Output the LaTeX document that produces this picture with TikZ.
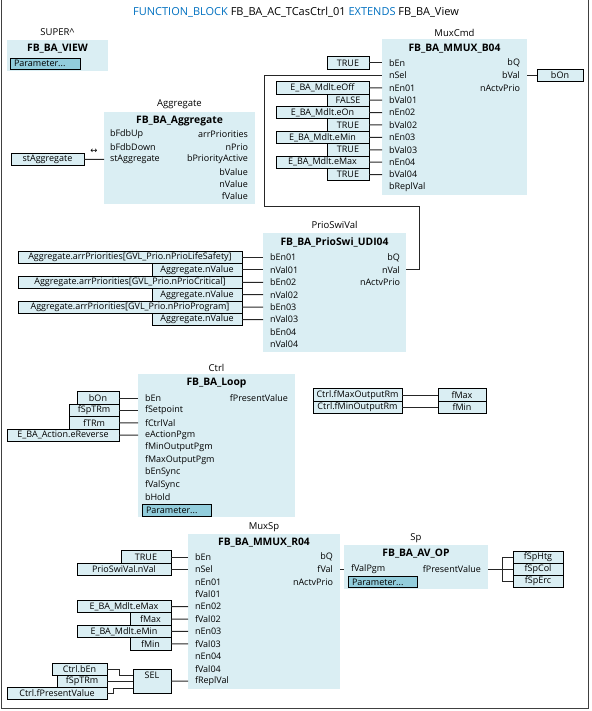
\documentclass[tikz,border=0pt]{standalone}
\usepackage{fontspec}
\setmainfont{Open Sans}
\newfontfamily\symf{DejaVu Sans}
\definecolor{blkfill}{HTML}{DAEEF3}
\definecolor{varfill}{HTML}{DAEEF3}
\definecolor{btnfill}{HTML}{92CDDC}
\definecolor{kwblue}{HTML}{0070C0}
\begin{document}
\begin{tikzpicture}[x=1pt,y=-1pt,
  every node/.style={inner sep=0pt, outer sep=0pt},
  blkbox/.style={fill=blkfill, draw=none, anchor=north west},
  instname/.style={font=\fontsize{9.5}{11}\selectfont},
  blktitle/.style={font=\fontsize{10.3}{12}\selectfont\bfseries},
  pinl/.style={anchor=west, font=\fontsize{9}{11}\selectfont},
  pinr/.style={anchor=east, font=\fontsize{9}{11}\selectfont},
  varbox/.style={draw=black, line width=0.8pt, fill=varfill, minimum height=12.4pt, font=\fontsize{9}{11}\selectfont, align=center},
  parambtn/.style={draw=black, line width=0.8pt, fill=btnfill, anchor=north west},
  wire/.style={draw=black!85, line width=1pt},
  frameline/.style={draw=black!75, line width=1pt}]
\useasboundingbox (0,0) rectangle (591,711);
\draw[frameline] (1,-2) -- (1,708) -- (588,708) -- (588,-2);

% title
\node[font=\fontsize{11}{13}\selectfont] (title) at (296,12) {\textcolor{kwblue}{FUNCTION\_BLOCK} FB\_BA\_AC\_TCasCtrl\_01 \textcolor{kwblue}{EXTENDS} FB\_BA\_View};

% ---------- SUPER^ ----------
\node[blkbox, minimum width=101, minimum height=31] (vw) at (7,40) {};
\node[instname] (vw-n) at (57.5,32) {SUPER\textasciicircum};
\node[blktitle] (vw-t) at (57.5,49) {FB\_BA\_VIEW};
\node[parambtn, minimum width=70, minimum height=11] (vw-p) at (10,58) {};
\node[pinl] (vw-pt) at (14,63.5) {Parameter...};

% ---------- MuxCmd ----------
\node[blkbox, minimum width=145, minimum height=156] (mc) at (382,39) {};
\node[instname] (mc-n) at (454.5,32.5) {MuxCmd};
\node[blktitle] (mc-t) at (454.5,48.5) {FB\_BA\_MMUX\_B04};
\foreach \t [count=\i from 0] in {bEn,nSel,nEn01,bVal01,nEn02,bVal02,nEn03,bVal03,nEn04,bVal04,bReplVal}{
  \node[pinl] (mc-l\i) at (389,{63+12.4*\i}) {\t};
  \coordinate (mc-i\i) at (382,{63+12.4*\i});
}
\foreach \t [count=\i from 0] in {bQ,bVal,nActvPrio}{
  \node[pinr] (mc-r\i) at (520,{63+12.4*\i}) {\t};
  \coordinate (mc-o\i) at (527,{63+12.4*\i});
}
\node[varbox, anchor=east, minimum width=42] (mcv0) at (369,63) {TRUE};
\node[varbox, anchor=east, minimum width=93] (mcv2) at (369,87.8) {E\_BA\_Mdlt.eOff};
\node[varbox, anchor=east, minimum width=42] (mcv3) at (369,100.2) {FALSE};
\node[varbox, anchor=east, minimum width=93] (mcv4) at (369,112.6) {E\_BA\_Mdlt.eOn};
\node[varbox, anchor=east, minimum width=42] (mcv5) at (369,125) {TRUE};
\node[varbox, anchor=east, minimum width=93] (mcv6) at (369,137.4) {E\_BA\_Mdlt.eMin};
\node[varbox, anchor=east, minimum width=42] (mcv7) at (369,149.8) {TRUE};
\node[varbox, anchor=east, minimum width=93] (mcv8) at (369,162.2) {E\_BA\_Mdlt.eMax};
\node[varbox, anchor=east, minimum width=42] (mcv9) at (369,174.6) {TRUE};
\foreach \i in {0,2,3,4,5,6,7,8,9}{\draw[wire] (mcv\i.east) -- (mc-i\i);}
\node[varbox, anchor=west, minimum width=46] (bon) at (537,75.4) {bOn};
\draw[wire] (mc-o1) -- (bon.west);

% ---------- Aggregate ----------
\node[blkbox, minimum width=151, minimum height=92] (ag) at (104,112) {};
\node[instname] (ag-n) at (179.5,104.5) {Aggregate};
\node[blktitle] (ag-t) at (179.5,121) {FB\_BA\_Aggregate};
\foreach \t [count=\i from 0] in {bFdbUp,bFdbDown,stAggregate}{
  \node[pinl] (ag-l\i) at (110,{134.5+12.4*\i}) {\t};
  \coordinate (ag-i\i) at (104,{134.5+12.4*\i});
}
\foreach \t [count=\i from 0] in {arrPriorities,nPrio,bPriorityActive,bValue,nValue,fValue}{
  \node[pinr] (ag-r\i) at (248,{134.5+12.4*\i}) {\t};
}
\node[varbox, anchor=east, minimum width=73] (stag) at (84,159.3) {stAggregate};
\draw[wire] (stag.east) -- (ag-i2);
\node[font=\symf\fontsize{8.5}{10}\selectfont] (inout) at (94,151.5) {↔};

% ---------- PrioSwiVal ----------
\node[blkbox, minimum width=143, minimum height=119] (ps) at (263,233) {};
\node[instname] (ps-n) at (334.5,225) {PrioSwiVal};
\node[blktitle] (ps-t) at (334.5,242) {FB\_BA\_PrioSwi\_UDI04};
\foreach \t [count=\i from 0] in {bEn01,nVal01,bEn02,nVal02,bEn03,nVal03,bEn04,nVal04}{
  \node[pinl] (ps-l\i) at (270,{257.5+12.4*\i}) {\t};
  \coordinate (ps-i\i) at (263,{257.5+12.4*\i});
}
\foreach \t [count=\i from 0] in {bQ,nVal,nActvPrio}{
  \node[pinr] (ps-r\i) at (400,{257.5+12.4*\i}) {\t};
  \coordinate (ps-o\i) at (406,{257.5+12.4*\i});
}
\node[varbox, anchor=east, minimum width=224] (psv0) at (242,257.5) {Aggregate.arrPriorities[GVL\_Prio.nPrioLifeSafety]};
\node[varbox, anchor=east, minimum width=90] (psv1) at (242,269.9) {Aggregate.nValue};
\node[varbox, anchor=east, minimum width=224] (psv2) at (242,282.3) {Aggregate.arrPriorities[GVL\_Prio.nPrioCritical]};
\node[varbox, anchor=east, minimum width=90] (psv3) at (242,294.7) {Aggregate.nValue};
\node[varbox, anchor=east, minimum width=224] (psv4) at (242,307.1) {Aggregate.arrPriorities[GVL\_Prio.nPrioProgram]};
\node[varbox, anchor=east, minimum width=90] (psv5) at (242,319.5) {Aggregate.nValue};
\foreach \i in {0,...,5}{\draw[wire] (psv\i.east) -- (ps-i\i);}
% feedback PrioSwiVal.nVal -> MuxCmd.nSel
\coordinate (fb1) at (419,207);
\coordinate (fb2) at (264,207);
\draw[wire] (ps-o1) -| (fb1) -- (fb2) |- (mc-i1);

% ---------- Ctrl ----------
\node[blkbox, minimum width=157, minimum height=143] (ct) at (138,374) {};
\node[instname] (ct-n) at (216.5,367.5) {Ctrl};
\node[blktitle] (ct-t) at (216.5,383) {FB\_BA\_Loop};
\foreach \t [count=\i from 0] in {bEn,fSetpoint,fCtrlVal,eActionPgm,fMinOutputPgm,fMaxOutputPgm,bEnSync,fValSync,bHold}{
  \node[pinl] (ct-l\i) at (145,{398+12.4*\i}) {\t};
  \coordinate (ct-i\i) at (138,{398+12.4*\i});
}
\node[pinr] (ct-r0) at (288,398) {fPresentValue};
\node[parambtn, minimum width=69, minimum height=11.5] (ct-p) at (142,504.5) {};
\node[pinl] (ct-pt) at (146,510.3) {Parameter...};
\node[varbox, anchor=east, minimum width=42] (ctv0) at (119,398) {bOn};
\node[varbox, anchor=east, minimum width=50] (ctv1) at (119,410.4) {fSpTRm};
\node[varbox, anchor=east, minimum width=50] (ctv2) at (119,422.8) {fTRm};
\node[varbox, anchor=east, minimum width=112] (ctv3) at (119,435.2) {E\_BA\_Action.eReverse};
\foreach \i in {0,...,3}{\draw[wire] (ctv\i.east) -- (ct-i\i);}

% ---------- fMax / fMin assignments ----------
\node[varbox, anchor=east, minimum width=89] (rmx) at (402,395) {Ctrl.fMaxOutputRm};
\node[varbox, anchor=east, minimum width=89] (rmn) at (402,407.4) {Ctrl.fMinOutputRm};
\node[varbox, anchor=west, minimum width=48] (fmx) at (438,395) {fMax};
\node[varbox, anchor=west, minimum width=48] (fmn) at (438,407.4) {fMin};
\draw[wire] (rmx.east) -- (fmx.west);
\draw[wire] (rmn.east) -- (fmn.west);

% ---------- MuxSp ----------
\node[blkbox, minimum width=152, minimum height=155] (ms) at (188,534) {};
\node[instname] (ms-n) at (264,527) {MuxSp};
\node[blktitle] (ms-t) at (264,543) {FB\_BA\_MMUX\_R04};
\foreach \t [count=\i from 0] in {bEn,nSel,nEn01,fVal01,nEn02,fVal02,nEn03,fVal03,nEn04,fVal04,fReplVal}{
  \node[pinl] (ms-l\i) at (195,{557+12.4*\i}) {\t};
  \coordinate (ms-i\i) at (188,{557+12.4*\i});
}
\foreach \t [count=\i from 0] in {bQ,fVal,nActvPrio}{
  \node[pinr] (ms-r\i) at (333,{557+12.4*\i}) {\t};
  \coordinate (ms-o\i) at (340,{557+12.4*\i});
}
\node[varbox, anchor=east, minimum width=50] (msv0) at (171,557) {TRUE};
\node[varbox, anchor=east, minimum width=94] (msv1) at (171,569.4) {PrioSwiVal.nVal};
\node[varbox, anchor=east, minimum width=94] (msv4) at (171,606.6) {E\_BA\_Mdlt.eMax};
\node[varbox, anchor=east, minimum width=41] (msv5) at (171,619) {fMax};
\node[varbox, anchor=east, minimum width=94] (msv6) at (171,631.4) {E\_BA\_Mdlt.eMin};
\node[varbox, anchor=east, minimum width=41] (msv7) at (171,643.8) {fMin};
\foreach \i in {0,1,4,5,6,7}{\draw[wire] (msv\i.east) -- (ms-i\i);}

% SEL
\node[draw=black, line width=0.8pt, fill=varfill, anchor=north west, minimum width=38, minimum height=24] (sel) at (133,669) {};
\node[pinl, anchor=center] (sel-t) at (152,675.5) {SEL};
\coordinate (sel-i1) at (133,675);
\coordinate (sel-i2) at (133,681);
\coordinate (sel-i3) at (133,688);
\node[varbox, anchor=east, minimum width=55, minimum height=12] (sb1) at (107,669) {Ctrl.bEn};
\node[varbox, anchor=east, minimum width=50, minimum height=12] (sb2) at (107,681) {fSpTRm};
\node[varbox, anchor=east, minimum width=100, minimum height=12] (sb3) at (107,693) {Ctrl.fPresentValue};
\draw[wire] (sb1.east) -- ([xshift=12pt]sb1.east) |- (sel-i1);
\draw[wire] (sb2.east) -- (sel-i2);
\draw[wire] (sb3.east) -- ([xshift=6pt]sb3.east) |- (sel-i3);
\draw[wire] (sel.east) -- (ms-i10);

% ---------- Sp ----------
\node[blkbox, minimum width=144, minimum height=44] (sp) at (344,545) {};
\node[instname] (sp-n) at (416,538) {Sp};
\node[blktitle] (sp-t) at (416,554) {FB\_BA\_AV\_OP};
\node[pinl] (sp-l0) at (351,569.4) {fValPgm};
\coordinate (sp-i0) at (344,569.4);
\node[pinr] (sp-r0) at (481,569.4) {fPresentValue};
\coordinate (sp-o0) at (488,569.4);
\node[parambtn, minimum width=69, minimum height=11] (sp-p) at (348,576.5) {};
\node[pinl] (sp-pt) at (352,582) {Parameter...};
\draw[wire] (ms-o1) -- (sp-i0);
\node[varbox, anchor=west, minimum width=50, minimum height=12] (so1) at (513,557.4) {fSpHtg};
\node[varbox, anchor=west, minimum width=50, minimum height=12] (so2) at (513,569.4) {fSpCol};
\node[varbox, anchor=west, minimum width=50, minimum height=12] (so3) at (513,581.4) {fSpErc};
\coordinate (spj) at (502,569.4);
\draw[wire] (sp-o0) -- (spj);
\draw[wire] (spj) |- (so1.west);
\draw[wire] (spj) -- (so2.west);
\draw[wire] (spj) |- (so3.west);
\end{tikzpicture}
\end{document}
